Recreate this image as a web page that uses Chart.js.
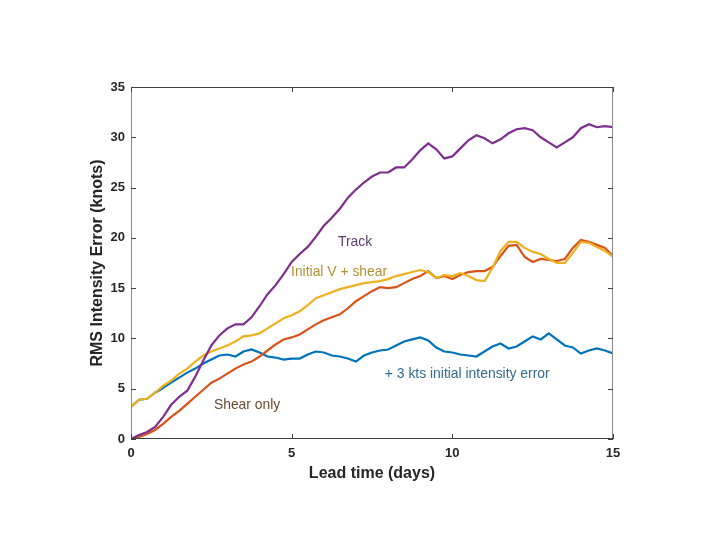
<!DOCTYPE html>
<html>
<head>
<meta charset="utf-8">
<script src="https://cdn.jsdelivr.net/npm/chart.js@4"></script>
<style>
html,body{margin:0;padding:0;background:#fff;}
#wrap{width:720px;height:540px;}
</style>
</head>
<body>
<div id="wrap"><canvas id="c" width="720" height="540"></canvas></div>
<script>
const days = [0,0.25,0.5,0.75,1,1.25,1.5,1.75,2,2.25,2.5,2.75,3,3.25,3.5,3.75,4,4.25,4.5,4.75,5,5.25,5.5,5.75,6,6.25,6.5,6.75,7,7.25,7.5,7.75,8,8.25,8.5,8.75,9,9.25,9.5,9.75,10,10.25,10.5,10.75,11,11.25,11.5,11.75,12,12.25,12.5,12.75,13,13.25,13.5,13.75,14,14.25,14.5,14.75,15];

const plus3kts = [3.2,3.9,4.0,4.6,5.1,5.6,6.1,6.6,7.0,7.5,7.9,8.3,8.4,8.2,8.7,8.9,8.6,8.2,8.1,7.9,8.0,8.0,8.4,8.7,8.6,8.3,8.2,8.0,7.7,8.3,8.6,8.8,8.9,9.3,9.7,9.9,10.1,9.8,9.1,8.7,8.6,8.4,8.3,8.2,8.7,9.2,9.5,9.0,9.2,9.7,10.2,9.9,10.5,9.9,9.3,9.1,8.5,8.8,9.0,8.8,8.5];

const shearOnly = [0,0.2,0.5,0.9,1.5,2.2,2.8,3.5,4.2,4.9,5.6,6.0,6.5,7.0,7.4,7.7,8.2,8.8,9.4,9.9,10.1,10.4,10.9,11.4,11.8,12.1,12.4,13.0,13.7,14.2,14.7,15.1,15.0,15.1,15.5,15.9,16.2,16.7,16.0,16.2,15.9,16.3,16.6,16.7,16.7,17.1,18.2,19.2,19.3,18.1,17.6,17.9,17.8,17.7,17.9,19.0,19.8,19.6,19.3,19.0,18.2];

const initVShear = [3.2,3.9,4.0,4.6,5.3,5.8,6.5,7.0,7.7,8.3,8.7,9.0,9.3,9.7,10.2,10.3,10.5,11.0,11.5,12.0,12.3,12.7,13.3,14.0,14.3,14.6,14.9,15.1,15.3,15.5,15.6,15.7,15.9,16.2,16.4,16.6,16.8,16.6,16.0,16.3,16.2,16.5,16.2,15.8,15.7,17.0,18.7,19.6,19.6,19.0,18.6,18.4,17.9,17.5,17.5,18.5,19.6,19.5,19.1,18.7,18.1];

const track = [0,0.4,0.7,1.2,2.2,3.4,4.2,4.8,6.2,7.8,9.3,10.3,11.0,11.4,11.4,12.1,13.2,14.4,15.3,16.4,17.6,18.4,19.1,20.1,21.2,22.0,22.9,24.0,24.8,25.5,26.1,26.5,26.5,27.0,27.0,27.8,28.7,29.4,28.8,27.9,28.1,28.9,29.7,30.2,29.9,29.4,29.8,30.4,30.8,30.9,30.7,30.0,29.5,29.0,29.5,30.0,30.9,31.3,31.0,31.1,31.0];

const xTicks = [0,5,10,15];
const yTicks = [0,5,10,15,20,25,30,35];

const labels = [
  {text:'Track', x:6.44, y:19.6, color:'#5b3d6b'},
  {text:'Initial V + shear', x:4.98, y:16.6, color:'#b09232'},
  {text:'+ 3 kts initial intensity error', x:7.9, y:6.46, color:'#336b8a'},
  {text:'Shear only', x:2.58, y:3.38, color:'#6b4a30'}
];

function series(vals){ return days.map((d,i)=>({x:d,y:vals[i]})); }

const framePlugin = {
  id:'frame',
  afterDatasetsDraw(chart){
    const ctx = chart.ctx, a = chart.chartArea;
    const xs = chart.scales.x, ys = chart.scales.y;
    ctx.save();
    ctx.font = '13.9px "Liberation Sans", Arial, sans-serif';
    ctx.textBaseline = 'middle';
    ctx.textAlign = 'left';
    labels.forEach(l=>{
      ctx.fillStyle = l.color;
      ctx.fillText(l.text, xs.getPixelForValue(l.x), ys.getPixelForValue(l.y));
    });
    ctx.lineWidth = 1;
    ctx.strokeStyle = '#8a8a8a';
    ctx.beginPath();
    ctx.moveTo(a.left+0.5, a.top); ctx.lineTo(a.left+0.5, a.bottom);
    ctx.moveTo(a.right-0.5, a.top); ctx.lineTo(a.right-0.5, a.bottom);
    ctx.stroke();
    ctx.strokeStyle = '#404040';
    ctx.beginPath();
    ctx.moveTo(a.left, a.top+0.5); ctx.lineTo(a.right, a.top+0.5);
    ctx.moveTo(a.left, a.bottom-0.5); ctx.lineTo(a.right, a.bottom-0.5);
    ctx.stroke();
    ctx.strokeStyle = '#404040';
    ctx.beginPath();
    const tl = 5;
    xTicks.forEach(v=>{
      const px = Math.round(xs.getPixelForValue(v))+0.5;
      ctx.moveTo(px, a.bottom); ctx.lineTo(px, a.bottom-tl);
      ctx.moveTo(px, a.top); ctx.lineTo(px, a.top+tl);
    });
    yTicks.forEach(v=>{
      const py = Math.round(ys.getPixelForValue(v))+0.5;
      ctx.moveTo(a.left, py); ctx.lineTo(a.left+tl, py);
      ctx.moveTo(a.right, py); ctx.lineTo(a.right-tl, py);
    });
    ctx.stroke();
    ctx.restore();
  }
};

const lw = 2.2;
new Chart(document.getElementById('c'), {
  type:'line',
  data:{
    datasets:[
      {label:'Track', data:series(track), borderColor:'#7E2F8E', borderWidth:lw, pointRadius:0, tension:0, order:0},
      {label:'Initial V + shear', data:series(initVShear), borderColor:'#EDB120', borderWidth:lw, pointRadius:0, tension:0, order:1},
      {label:'Shear only', data:series(shearOnly), borderColor:'#D95319', borderWidth:lw, pointRadius:0, tension:0, order:2},
      {label:'+ 3 kts initial intensity error', data:series(plus3kts), borderColor:'#0072BD', borderWidth:lw, pointRadius:0, tension:0, order:3}
    ]
  },
  options:{
    responsive:false,
    animation:false,
    devicePixelRatio:1,
    layout:{padding:{left:85, right:107, top:87, bottom:56}},
    plugins:{legend:{display:false}, tooltip:{enabled:false}},
    scales:{
      x:{
        type:'linear', min:0, max:15,
        afterBuildTicks(s){ s.ticks = xTicks.map(v=>({value:v})); },
        afterFit(s){ s.height = 45; },
        grid:{display:false, drawTicks:false},
        border:{display:false},
        ticks:{padding:7, color:'#262626', font:{family:'"Liberation Sans", Arial, sans-serif', size:13, weight:'bold'}, maxRotation:0},
        title:{display:true, text:'Lead time (days)', color:'#262626', padding:{top:0,bottom:1}, font:{family:'"Liberation Sans", Arial, sans-serif', size:16, weight:'bold'}}
      },
      y:{
        type:'linear', min:0, max:35,
        afterBuildTicks(s){ s.ticks = yTicks.map(v=>({value:v})); },
        afterFit(s){ s.width = 46; },
        grid:{display:false, drawTicks:false},
        border:{display:false},
        ticks:{padding:6, color:'#262626', font:{family:'"Liberation Sans", Arial, sans-serif', size:13, weight:'bold'}},
        title:{display:true, text:'RMS Intensity Error (knots)', color:'#262626', padding:{top:3,bottom:0}, font:{family:'"Liberation Sans", Arial, sans-serif', size:16, weight:'bold'}}
      }
    }
  },
  plugins:[framePlugin]
});
</script>
</body>
</html>
